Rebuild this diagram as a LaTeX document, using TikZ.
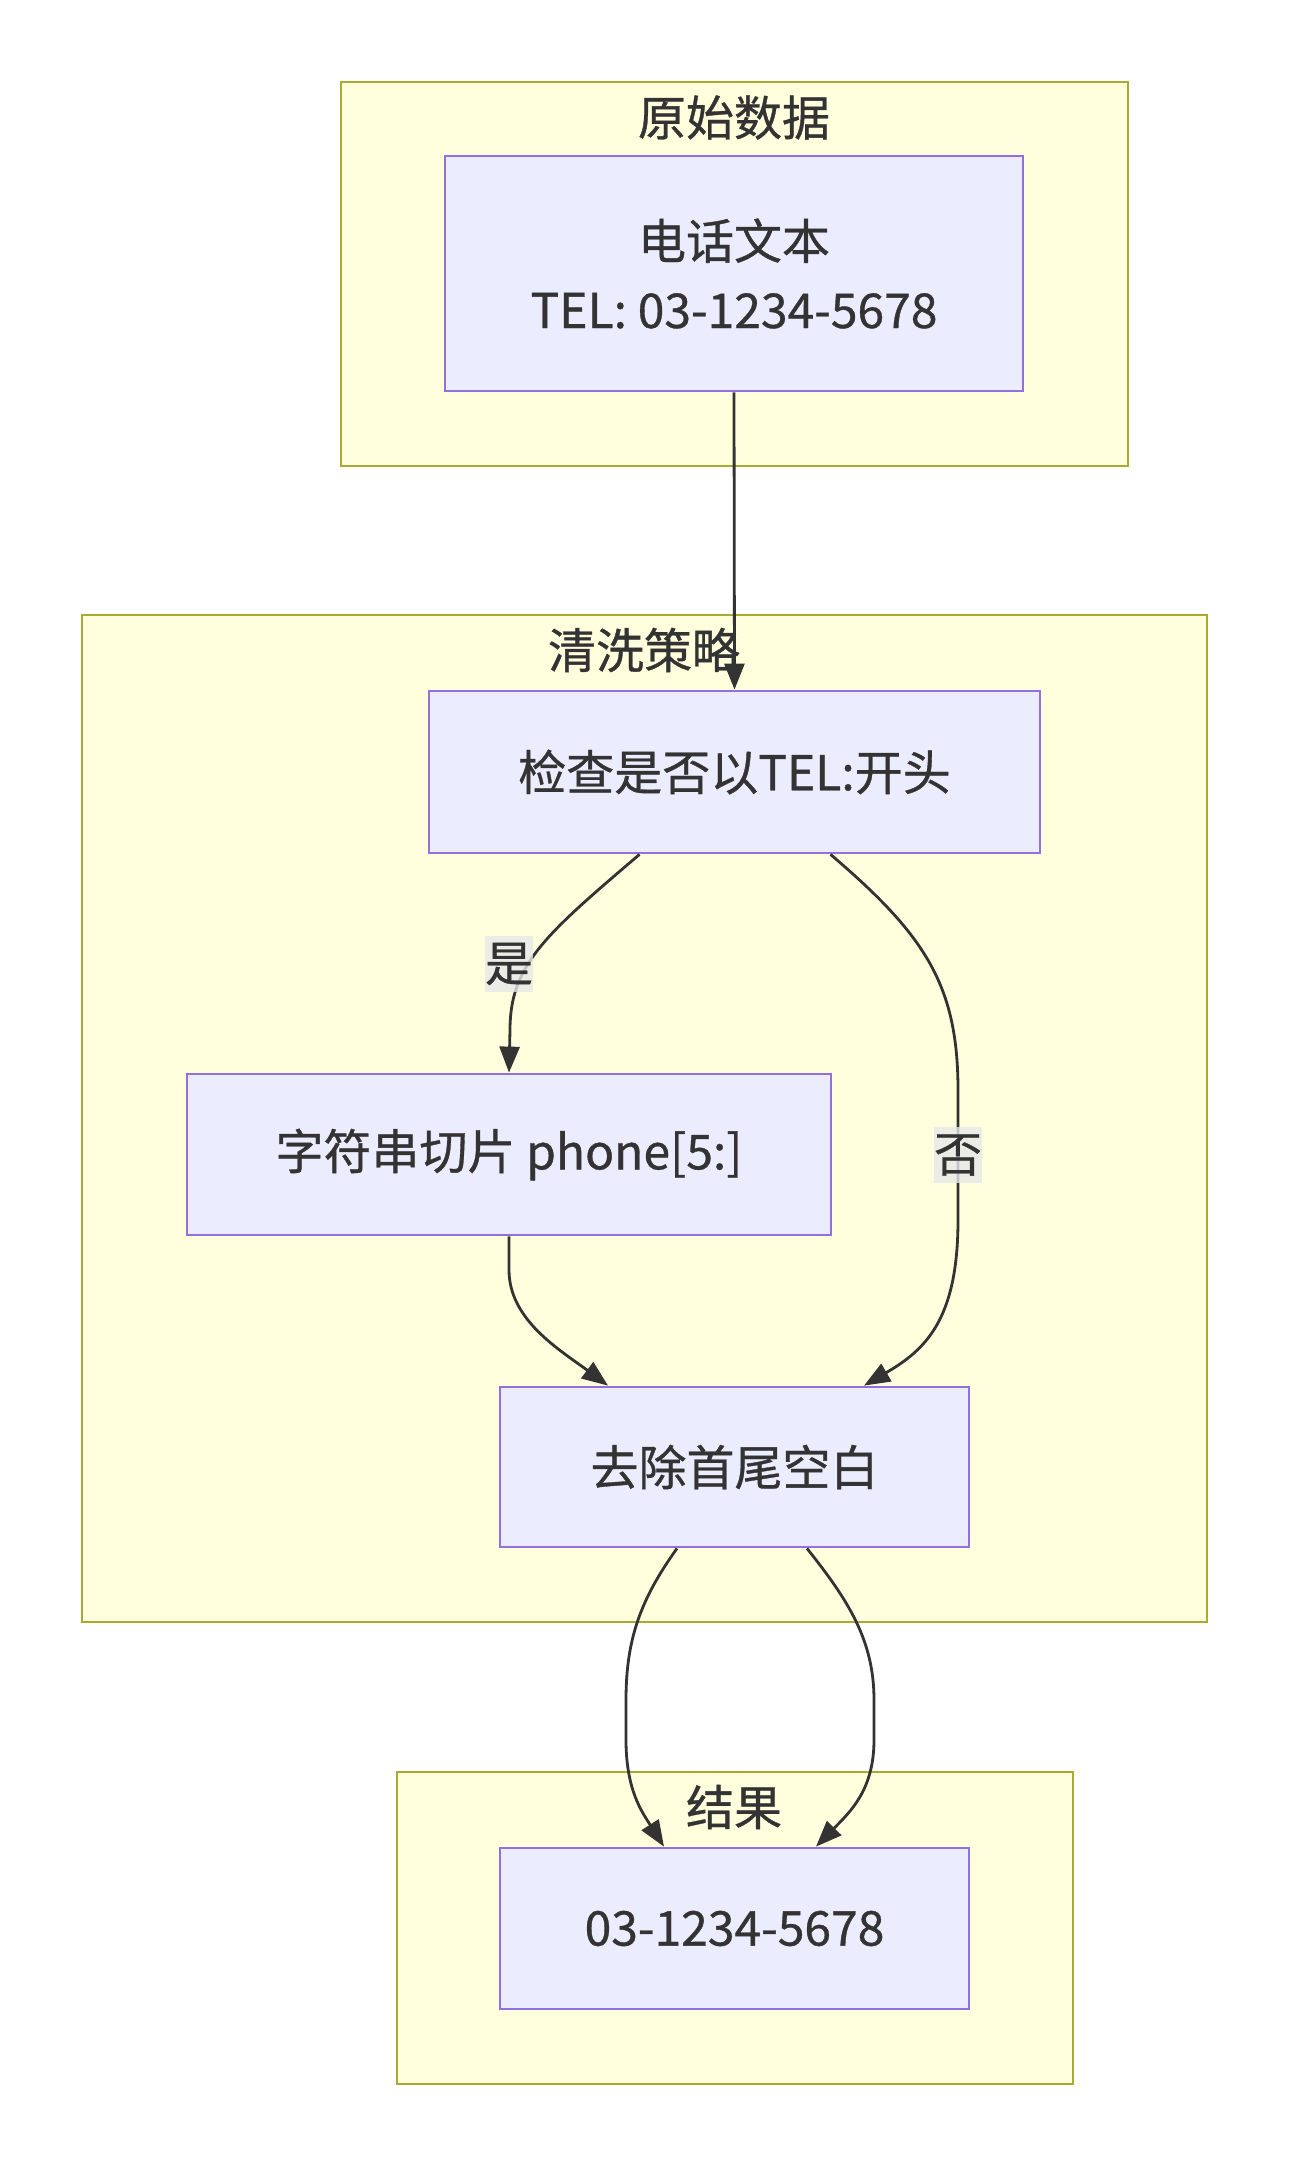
\documentclass[tikz,border=0pt]{standalone}
\usepackage{fontspec}
\setmainfont{Noto Sans CJK SC}[FakeBold=0.7]
\usetikzlibrary{arrows.meta}
\definecolor{clfill}{HTML}{FFFFDE}
\definecolor{clline}{HTML}{AAAA33}
\definecolor{ndfill}{HTML}{ECECFF}
\definecolor{ndline}{HTML}{9370DB}
\definecolor{txt}{HTML}{333333}
\definecolor{lblbg}{HTML}{E8E8E8}
\begin{document}
\begin{tikzpicture}[x=1pt,y=-1pt,
  cluster/.style={draw=clline,fill=clfill,line width=2.8pt,inner sep=0pt},
  box/.style={draw=ndline,fill=ndfill,line width=2.8pt,text=txt,font=\fontsize{48}{69}\selectfont,align=center,inner sep=0pt},
  ttl/.style={text=txt,font=\fontsize{48}{58}\selectfont,inner sep=0pt},
  edge/.style={draw=txt,line width=2.8pt,-{Triangle[length=26pt,width=20pt]}},
  lbl/.style={fill=lblbg,fill opacity=0.8,text opacity=1,text=txt,font=\fontsize{48}{58}\selectfont,inner xsep=0pt,inner ysep=7pt}]
\useasboundingbox[fill=white] (0,0) rectangle (1290,2169);
% clusters
\node[cluster,minimum width=787pt,minimum height=384pt] (cA) at (734.5,274) {};
\node[cluster,minimum width=1125pt,minimum height=1007pt] (cB) at (644.5,1118.5) {};
\node[cluster,minimum width=676pt,minimum height=312pt] (cC) at (735,1928) {};
\node[ttl] (tA) at (734,117.5) {原始数据};
\node[ttl] (tB) at (644,650) {清洗策略};
\node[ttl] (tC) at (734,1807) {结果};
% nodes
\node[box,minimum width=578pt,minimum height=235pt] (nA) at (734,273.5) {电话文本\\TEL: 03-1234-5678};
\node[box,minimum width=611pt,minimum height=162pt] (nB) at (734.5,772) {检查是否以TEL:开头};
\node[box,minimum width=644pt,minimum height=161pt] (nC) at (509,1154.5) {字符串切片 phone[5:]};
\node[box,minimum width=469pt,minimum height=160pt] (nD) at (734.5,1467) {去除首尾空白};
\node[box,minimum width=469pt,minimum height=161pt] (nE) at (734.5,1928.5) {03-1234-5678};
% edges
\draw[edge] (nA.south) -- (nB.north);
\draw[edge] ([xshift=-95pt]nB.south) .. controls (545,935) and (510,965) .. (510,1030) -- (nC.north);
\draw[edge] ([xshift=96pt]nB.south) .. controls (925,935) and (958,985) .. (958,1090) -- (958,1220) .. controls (958,1320) and (925,1350) .. ([xshift=129.5pt]nD.north);
\draw[edge] (nC.south) -- (509,1270) .. controls (509,1320) and (560,1350) .. ([xshift=-126.5pt]nD.north);
\draw[edge] ([xshift=-57.5pt]nD.south) .. controls (640,1600) and (626,1640) .. (626,1700) -- (626,1740) .. controls (626,1790) and (642,1812) .. ([xshift=-70.5pt]nE.north);
\draw[edge] ([xshift=72.5pt]nD.south) .. controls (848,1600) and (874,1640) .. (874,1700) -- (874,1740) .. controls (874,1790) and (850,1812) .. ([xshift=81.5pt]nE.north);
% labels
\node[lbl] (l1) at (509,964) {是};
\node[lbl] (l2) at (958,1155) {否};
\end{tikzpicture}
\end{document}
